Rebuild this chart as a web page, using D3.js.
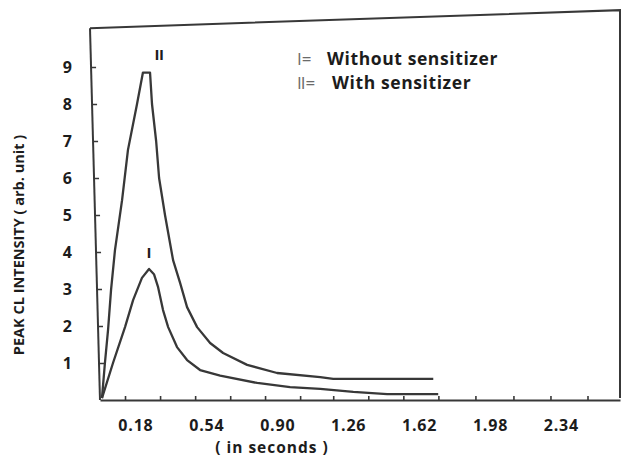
<!DOCTYPE html>
<html>
<head>
<meta charset="utf-8">
<script src="https://cdn.jsdelivr.net/npm/d3@7"></script>
<style>
  html, body { margin: 0; padding: 0; background: #fff; }
  svg { display: block; }
  text { font-family: "Open Sans", Lato, sans-serif; font-weight: bold; fill: #1c1c1c; }
</style>
</head>
<body>
<svg id="chart" width="623" height="457"></svg>
<script>
// ---- data ----
const timeII  = [0.010, 0.025, 0.041, 0.056, 0.076, 0.112, 0.142, 0.188, 0.218, 0.254, 0.264, 0.285, 0.300, 0.330, 0.371, 0.407, 0.442, 0.493, 0.559, 0.625, 0.747, 0.899, 1.118, 1.184, 1.692];
const valueII = [0.05,  1.00,  1.90,  2.97,  4.05,  5.40,  6.76,  8.00,  8.85,  8.85,  8.00,  7.00,  6.00,  5.00,  3.78,  3.16,  2.51,  1.97,  1.54,  1.27,  0.95,  0.73,  0.62,  0.57,  0.57];
const timeI   = [0.010, 0.066, 0.127, 0.168, 0.213, 0.249, 0.274, 0.295, 0.320, 0.346, 0.391, 0.442, 0.508, 0.610, 0.798, 0.965, 1.118, 1.286, 1.458, 1.717];
const valueI  = [0.05,  1.00,  1.97,  2.70,  3.30,  3.54,  3.40,  3.05,  2.43,  1.97,  1.43,  1.08,  0.81,  0.66,  0.46,  0.35,  0.30,  0.22,  0.16,  0.16];
const xTickLabels = [0.18, 0.54, 0.90, 1.26, 1.62, 1.98, 2.34];
const xMinorTicks = [0.127, 0.305, 0.483, 0.661, 0.838, 1.016, 1.184, 1.362, 1.540, 1.718, 1.906, 2.099, 2.287, 2.475];
const yTicks = [1, 2, 3, 4, 5, 6, 7, 8, 9];
const legendMarks = ["I", "II"];
const legendTexts = ["Without sensitizer", "With sensitizer"];

// ---- layout ----
const svg = d3.select("#chart");
const x = d3.scaleLinear().domain([0, 2.64]).range([100, 620]);
const y = d3.scaleLinear().domain([0, 10]).range([400, 30]);
const lineColor = "#383838";
const markGray = "#6a6a6a";

// frame: top edge (slanted, as in the scan) and right edge
const skewDeg = 1.54;
const tan = Math.tan(skewDeg * Math.PI / 180);
const topLeft = [x(0) - (y(0) - y(10.05)) * tan, y(10.05)];
const topRight = [x.range()[1], y(10.05) - 18];
const botRight = [x.range()[1], y(0) - 2];
svg.append("path")
  .attr("d", d3.line()([topLeft, topRight, botRight]))
  .attr("fill", "none").attr("stroke", lineColor).attr("stroke-width", 2);

// left axis (slightly tilted like the scan), ticks pointing inward
const yAxisG = svg.append("g")
  .attr("transform", `translate(${x(0)},${y(0)}) skewX(${skewDeg}) translate(0,${-y(0)})`)
  .call(d3.axisLeft(y).tickValues(yTicks).tickSizeInner(-5).tickSizeOuter(0).tickFormat(""));
yAxisG.select(".domain").attr("d", `M0,${y(0)}V${y(10.05)}`).attr("stroke", lineColor).attr("stroke-width", 2);
yAxisG.selectAll(".tick line").attr("stroke", lineColor).attr("stroke-width", 1.6);

// y tick labels (not tilted)
const yLab = svg.append("g").attr("transform", `translate(72,0)`)
  .call(d3.axisLeft(y).tickValues(yTicks).tickSize(0).tickPadding(0));
yLab.select(".domain").remove();
yLab.selectAll("text").attr("font-size", 16).attr("font-family", "'Open Sans', sans-serif")
  .attr("font-weight", "bold").attr("fill", "#1c1c1c");

// bottom axis with minor ticks pointing inward
const xAxisG = svg.append("g").attr("transform", `translate(0,${y(0)})`)
  .call(d3.axisBottom(x).tickValues(xMinorTicks).tickSizeInner(-4).tickSizeOuter(0).tickFormat(""));
xAxisG.select(".domain").attr("stroke", lineColor).attr("stroke-width", 2);
xAxisG.selectAll(".tick line").attr("stroke", lineColor).attr("stroke-width", 1.6);

// bottom axis labels
const xLab = svg.append("g").attr("transform", `translate(0,${y(0)})`)
  .call(d3.axisBottom(x).tickValues(xTickLabels).tickSize(0).tickPadding(20).tickFormat(d3.format(".2f")));
xLab.select(".domain").remove();
xLab.selectAll("text").attr("font-size", 16).attr("font-family", "'Open Sans', sans-serif")
  .attr("font-weight", "bold").attr("fill", "#1c1c1c").attr("letter-spacing", 0.8);

// curves
const path = d3.line().x(d => x(d[0])).y(d => y(d[1])).curve(d3.curveLinear);
const seriesII = timeII.map((t, i) => [t, valueII[i]]);
const seriesI = timeI.map((t, i) => [t, valueI[i]]);
[seriesII, seriesI].forEach(s => {
  svg.append("path").attr("d", path(s)).attr("fill", "none")
    .attr("stroke", lineColor).attr("stroke-width", 2.3).attr("stroke-linejoin", "round");
});

// curve markers I and II near their peaks
const peakII = seriesII[d3.maxIndex(seriesII, d => d[1])];
const peakI = seriesI[d3.maxIndex(seriesI, d => d[1])];
svg.append("text").attr("x", x(peakII[0]) + 16).attr("y", y(peakII[1]) - 13)
  .attr("text-anchor", "middle").attr("font-size", 15).attr("letter-spacing", -0.5)
  .attr("fill", markGray).text("II");
svg.append("text").attr("x", x(peakI[0])).attr("y", y(peakI[1]) - 11)
  .attr("text-anchor", "middle").attr("font-size", 15).attr("fill", markGray).text("I");

// legend
const legend = svg.append("g");
legendMarks.forEach((m, i) => {
  const t = legend.append("text").attr("y", 65 + i * 24).attr("font-size", 17.5).attr("letter-spacing", 0.6);
  t.append("tspan").attr("x", 297).attr("fill", markGray).attr("font-size", 17)
    .attr("font-weight", "normal").attr("letter-spacing", -1).text(m);
  t.append("tspan").attr("dx", 1).attr("fill", markGray).attr("font-size", 17)
    .attr("font-weight", "normal").attr("letter-spacing", 0).text("=");
  t.append("tspan").attr("x", i === 0 ? 327 : 332).text(legendTexts[i]);
});

// axis titles
svg.append("text").attr("transform", `translate(24,245) rotate(-90)`)
  .attr("text-anchor", "middle").attr("font-size", 14.5).text("PEAK CL INTENSITY ( arb. unit )");
svg.append("text").attr("x", 272).attr("y", 453)
  .attr("text-anchor", "middle").attr("font-size", 15.5).attr("letter-spacing", 1).text("( in seconds )");
</script>
</body>
</html>
